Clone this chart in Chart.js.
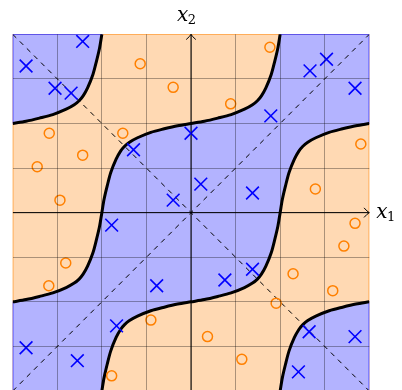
<!DOCTYPE html>
<html>
<head>
<meta charset="utf-8">
<script src="https://cdn.jsdelivr.net/npm/chart.js@4.4.0/dist/chart.umd.min.js"></script>
<style>
html,body{margin:0;padding:0;background:#fff;overflow:hidden;}
#wrap{width:402px;height:392px;}
</style>
</head>
<body>
<div id="wrap"><canvas id="c" width="402" height="392"></canvas></div>
<script>
// ---- data (x1, x2 coordinates) ----
const blueX1 = [-2.43,-3.70,-3.05,-2.69,-1.29,0.00,-0.40,0.22,1.79,2.67,3.04,3.68,1.38,-1.78,-0.77,-1.67,-3.70,-2.55,1.38,0.76,2.65,3.68,2.41];
const blueX2 = [3.84,3.29,2.79,2.68,1.41,1.78,0.28,0.64,2.17,3.18,3.44,2.79,0.44,-0.28,-1.64,-2.54,-3.03,-3.32,-1.27,-1.51,-2.67,-2.78,-3.57];

const orangeX1 = [-1.14,-0.40,1.77,0.89,-3.18,-1.53,-2.43,-3.45,3.81,2.79,-2.94,3.68,3.43,2.29,3.18,1.91,0.37,1.14,-2.81,-3.19,-0.90,-1.78];
const orangeX2 = [3.34,2.81,3.71,2.44,1.78,1.78,1.29,1.03,1.54,0.53,0.28,-0.24,-0.75,-1.37,-1.75,-2.03,-2.78,-3.29,-1.13,-1.64,-2.41,-3.66];

// decision boundary curves
const boundaryUpperLeft = [[-4,2],[-3.7,2.05],[-3.4,2.12],[-3.1,2.2],[-2.8,2.32],[-2.62,2.42],[-2.51,2.51],[-2.42,2.62],[-2.32,2.8],[-2.2,3.1],[-2.12,3.4],[-2.05,3.7],[-2,4]];
const boundaryMiddle = [[-4,-2],[-3.7,-1.95],[-3.4,-1.88],[-3.1,-1.8],[-2.8,-1.68],[-2.62,-1.58],[-2.51,-1.49],[-2.42,-1.38],[-2.32,-1.2],[-2.2,-0.9],[-2.12,-0.6],[-2.05,-0.3],[-2,0],
  [-1.95,0.3],[-1.88,0.6],[-1.8,0.9],[-1.68,1.2],[-1.58,1.38],[-1.49,1.49],[-1.38,1.58],[-1.2,1.68],[-0.9,1.8],[-0.6,1.88],[-0.3,1.95],[0,2],
  [0.3,2.05],[0.6,2.12],[0.9,2.2],[1.2,2.32],[1.38,2.42],[1.49,2.51],[1.58,2.62],[1.68,2.8],[1.8,3.1],[1.88,3.4],[1.95,3.7],[2,4]];
const boundaryLower = [[-2,-4],[-1.95,-3.7],[-1.88,-3.4],[-1.8,-3.1],[-1.68,-2.8],[-1.58,-2.62],[-1.49,-2.51],[-1.38,-2.42],[-1.2,-2.32],[-0.9,-2.2],[-0.6,-2.12],[-0.3,-2.05],[0,-2],
  [0.3,-1.95],[0.6,-1.88],[0.9,-1.8],[1.2,-1.68],[1.38,-1.58],[1.49,-1.49],[1.58,-1.38],[1.68,-1.2],[1.8,-0.9],[1.88,-0.6],[1.95,-0.3],[2,0],
  [2.05,0.3],[2.12,0.6],[2.2,0.9],[2.32,1.2],[2.42,1.38],[2.51,1.49],[2.62,1.58],[2.8,1.68],[3.1,1.8],[3.4,1.88],[3.7,1.95],[4,2]];
const boundaryLowerRight = [[2,-4],[2.05,-3.7],[2.12,-3.4],[2.2,-3.1],[2.32,-2.8],[2.42,-2.62],[2.51,-2.51],[2.62,-2.42],[2.8,-2.32],[3.1,-2.2],[3.4,-2.12],[3.7,-2.05],[4,-2]];

const plotMin = -4, plotMax = 4;
const gridTicks = [-4,-3,-2,-1,0,1,2,3,4];
const diagonalMain = [[-4,-4],[4,4]];
const diagonalAnti = [[-4,4],[4,-4]];
const xAxisLine = [[-4,0],[4,0]];
const yAxisLine = [[0,-4],[0,4]];
const axisLabels = [['x','1'],['x','2']];

// ---- helpers ----
const toXY = arr => arr.map(p => ({x:p[0], y:p[1]}));
const zipXY = (xs, ys) => xs.map((v,i) => ({x:v, y:ys[i]}));

const BLUE = '#0000ff', ORANGE = '#ff8000';
const BLUE_FILL = '#b3b3ff', ORANGE_FILL = '#ffd9b3';

const bandPoly = [...boundaryMiddle, [plotMax,plotMax], ...boundaryLower.slice().reverse(), [plotMin,plotMin], boundaryMiddle[0]];
const upperLeftPoly = [...boundaryUpperLeft, [plotMin,plotMax], boundaryUpperLeft[0]];
const lowerRightPoly = [...boundaryLowerRight, [plotMax,plotMin], boundaryLowerRight[0]];
const squarePoly = [[plotMin,plotMin],[plotMax,plotMin],[plotMax,plotMax],[plotMin,plotMax],[plotMin,plotMin]];

const lineDs = (pts, extra) => Object.assign({
  data: toXY(pts), showLine: true, pointRadius: 0, pointHoverRadius: 0,
  borderColor: '#000', borderWidth: 1, fill: false, tension: 0
}, extra);

const regionDs = (pts, fillColor, edgeColor, order) => lineDs(pts, {
  fill: 'shape', backgroundColor: fillColor, borderColor: edgeColor, borderWidth: 1.4, order
});

const datasets = [
  { data: zipXY(blueX1, blueX2), showLine: false, pointStyle: 'crossRot', pointRadius: 9, pointHoverRadius: 9,
    pointBorderWidth: 1.6, pointBorderColor: BLUE, borderColor: BLUE, pointBackgroundColor: BLUE, order: 0 },
  { data: zipXY(orangeX1, orangeX2), showLine: false, pointStyle: 'circle', pointRadius: 5, pointHoverRadius: 5,
    pointBorderWidth: 1.5, pointBorderColor: ORANGE, borderColor: ORANGE, pointBackgroundColor: 'rgba(0,0,0,0)', order: 0 },
  lineDs(boundaryUpperLeft, {borderWidth: 3, tension: 0.3, order: 1}),
  lineDs(boundaryMiddle, {borderWidth: 3, tension: 0.3, order: 1}),
  lineDs(boundaryLower, {borderWidth: 3, tension: 0.3, order: 1}),
  lineDs(boundaryLowerRight, {borderWidth: 3, tension: 0.3, order: 1}),
  lineDs(xAxisLine, {borderWidth: 1, order: 2}),
  lineDs(yAxisLine, {borderWidth: 1, order: 2}),
  lineDs(diagonalMain, {borderWidth: 1, borderDash: [5,5], order: 3}),
  lineDs(diagonalAnti, {borderWidth: 1, borderDash: [5,5], order: 3}),
  regionDs(bandPoly, BLUE_FILL, 'rgba(40,40,255,0.9)', 4),
  regionDs(upperLeftPoly, BLUE_FILL, 'rgba(40,40,255,0.9)', 4),
  regionDs(lowerRightPoly, BLUE_FILL, 'rgba(40,40,255,0.9)', 4),
  regionDs(squarePoly, ORANGE_FILL, 'rgba(255,150,40,0.95)', 5)
];

const gridColor = ctx => (ctx.tick && Math.abs(ctx.tick.value) === plotMax) ? 'rgba(0,0,0,0)' : 'rgba(0,0,0,0.33)';
const scaleOpts = {
  type: 'linear', min: plotMin, max: plotMax,
  afterBuildTicks: s => { s.ticks = gridTicks.map(v => ({value: v})); },
  ticks: {display: false},
  grid: {drawTicks: false, z: 1, color: gridColor, lineWidth: 1},
  border: {display: false}
};

const decorations = {
  id: 'decorations',
  afterDraw(chart) {
    const {ctx, scales: {x, y}} = chart;
    const x0 = x.getPixelForValue(0), y0 = y.getPixelForValue(0);
    const right = x.getPixelForValue(plotMax), top = y.getPixelForValue(plotMax);
    ctx.save();
    ctx.strokeStyle = '#000'; ctx.lineWidth = 1; ctx.lineCap = 'round';
    ctx.beginPath();
    ctx.moveTo(right - 5, y0 - 4.5); ctx.quadraticCurveTo(right - 2, y0 - 1, right, y0);
    ctx.quadraticCurveTo(right - 2, y0 + 1, right - 5, y0 + 4.5);
    ctx.moveTo(x0 - 4.5, top + 5); ctx.quadraticCurveTo(x0 - 1, top + 2, x0, top);
    ctx.quadraticCurveTo(x0 + 1, top + 2, x0 + 4.5, top + 5);
    ctx.stroke();
    ctx.fillStyle = '#000'; ctx.textBaseline = 'alphabetic'; ctx.textAlign = 'left';
    const drawLabel = (lbl, lx, ly) => {
      ctx.font = 'italic 20px "DejaVu Serif"';
      ctx.fillText(lbl[0], lx, ly);
      const w = ctx.measureText(lbl[0]).width;
      ctx.font = '13px "DejaVu Serif"';
      ctx.fillText(lbl[1], lx + w - 0.5, ly + 3.5);
    };
    drawLabel(axisLabels[0], right + 7, y0 + 5);
    drawLabel(axisLabels[1], x0 - 14, top - 13.5);
    ctx.restore();
  }
};

new Chart(document.getElementById('c'), {
  type: 'line',
  data: { datasets },
  options: {
    responsive: false, devicePixelRatio: 1, animation: false, events: [],
    layout: { autoPadding: false, padding: {left: 12.7, right: 32.7, top: 34.3, bottom: 1} },
    plugins: { legend: {display: false}, tooltip: {enabled: false} },
    scales: { x: scaleOpts, y: scaleOpts }
  },
  plugins: [decorations]
});
</script>
</body>
</html>
